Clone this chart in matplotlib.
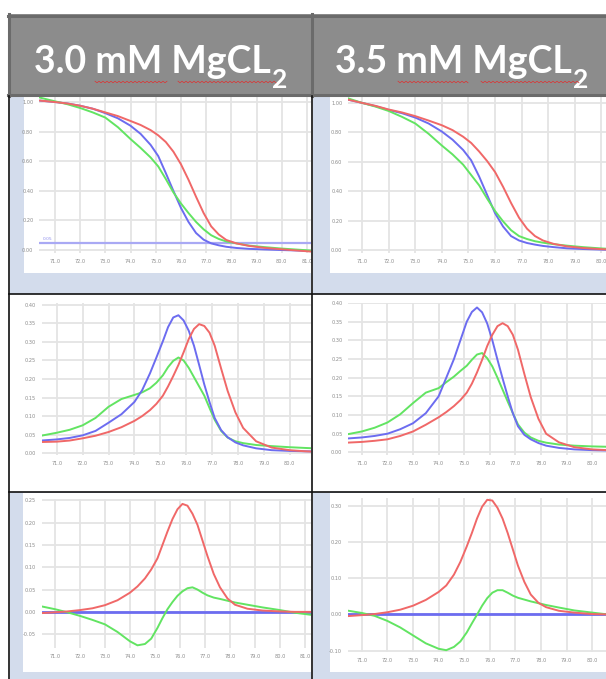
import numpy as np
import matplotlib.pyplot as plt
from matplotlib.patches import Rectangle
from matplotlib.lines import Line2D

W, H = 606, 679

headers = ["3.0 mM MgCL", "3.5 mM MgCL"]
header_sub = "2"

# temperature grid (deg C) at which the melt curves were read
temps = [70.4, 71.0, 71.5, 72.0, 72.5, 73.0, 73.5, 74.0, 74.4, 74.8, 75.1, 75.4, 75.7,
         76.0, 76.3, 76.6, 76.9, 77.2, 77.5, 77.8, 78.2, 78.7, 79.3, 80.0, 80.6, 81.3]
# finer grid for the peaked curves (derivative and difference rows)
temps_pk = [70.4, 71.0, 71.5, 72.0, 72.5, 73.0, 73.5, 74.0, 74.3, 74.6, 74.85, 75.1, 75.3, 75.5,
            75.7, 75.9, 76.1, 76.3, 76.5, 76.7, 76.9, 77.1, 77.35, 77.6, 77.9, 78.2, 78.7,
            79.3, 80.0, 80.6, 81.3]

# normalized melt curves, 3.0 mM
norm30_red = [1.01, 1.0, 0.99, 0.975, 0.955, 0.93, 0.905, 0.872, 0.845, 0.81, 0.775, 0.73, 0.665,
              0.58, 0.475, 0.36, 0.25, 0.16, 0.105, 0.068, 0.045, 0.028, 0.015, 0.005, -0.003, -0.012]
norm30_blue = [1.01, 1.0, 0.99, 0.975, 0.955, 0.925, 0.89, 0.84, 0.785, 0.71, 0.635, 0.52, 0.4,
               0.285, 0.19, 0.115, 0.07, 0.045, 0.032, 0.022, 0.014, 0.008, 0.004, 0.0, -0.003, -0.008]
norm30_green = [1.03, 1.005, 0.985, 0.96, 0.93, 0.895, 0.83, 0.75, 0.69, 0.625, 0.565, 0.48, 0.39,
                0.315, 0.25, 0.19, 0.14, 0.1, 0.075, 0.058, 0.045, 0.03, 0.02, 0.01, 0.003, -0.005]

# normalized melt curves, 3.5 mM
norm35_red = [1.025, 1.0, 0.98, 0.955, 0.935, 0.91, 0.88, 0.848, 0.815, 0.77, 0.728, 0.67, 0.605,
              0.53, 0.43, 0.32, 0.22, 0.145, 0.095, 0.065, 0.042, 0.025, 0.014, 0.006, 0.002, 0.0]
norm35_blue = [1.025, 1.0, 0.978, 0.952, 0.93, 0.9, 0.86, 0.805, 0.75, 0.68, 0.61, 0.5, 0.375,
               0.25, 0.16, 0.095, 0.065, 0.048, 0.037, 0.028, 0.02, 0.012, 0.007, 0.003, 0.0, -0.002]
norm35_green = [1.035, 1.0, 0.975, 0.945, 0.905, 0.86, 0.79, 0.71, 0.65, 0.58, 0.51, 0.44, 0.35,
                0.265, 0.195, 0.135, 0.095, 0.075, 0.06, 0.05, 0.04, 0.03, 0.02, 0.011, 0.005, 0.0]

# derivative curves, 3.0 mM
deriv30_red = [0.03, 0.031, 0.034, 0.04, 0.047, 0.057, 0.07, 0.087, 0.1, 0.116, 0.133, 0.155, 0.18, 0.208,
               0.238, 0.272, 0.308, 0.335, 0.348, 0.343, 0.325, 0.29, 0.228, 0.168, 0.11, 0.068, 0.032,
               0.015, 0.008, 0.005, 0.003]
deriv30_blue = [0.034, 0.037, 0.041, 0.048, 0.06, 0.082, 0.105, 0.138, 0.17, 0.215, 0.258, 0.302, 0.34, 0.366,
                0.372, 0.358, 0.33, 0.29, 0.238, 0.185, 0.138, 0.095, 0.062, 0.043, 0.029, 0.021, 0.013,
                0.008, 0.006, 0.005, 0.004]
deriv30_green = [0.047, 0.055, 0.063, 0.075, 0.095, 0.125, 0.146, 0.157, 0.164, 0.175, 0.19, 0.21, 0.232, 0.249,
                 0.258, 0.25, 0.23, 0.205, 0.18, 0.155, 0.122, 0.09, 0.06, 0.042, 0.032, 0.027, 0.022,
                 0.019, 0.016, 0.014, 0.012]

# derivative curves, 3.5 mM
deriv35_red = [0.026, 0.028, 0.031, 0.035, 0.044, 0.056, 0.074, 0.094, 0.108, 0.124, 0.14, 0.16, 0.184, 0.214,
               0.248, 0.285, 0.315, 0.338, 0.346, 0.338, 0.315, 0.275, 0.21, 0.148, 0.09, 0.05, 0.027,
               0.014, 0.008, 0.006, 0.005]
deriv35_blue = [0.037, 0.04, 0.044, 0.05, 0.062, 0.078, 0.105, 0.15, 0.2, 0.25, 0.3, 0.35, 0.376, 0.388,
                0.375, 0.345, 0.3, 0.248, 0.198, 0.15, 0.105, 0.07, 0.047, 0.035, 0.025, 0.018, 0.012,
                0.008, 0.006, 0.005, 0.005]
deriv35_green = [0.048, 0.056, 0.066, 0.08, 0.102, 0.132, 0.16, 0.172, 0.188, 0.203, 0.218, 0.232, 0.248, 0.262,
                 0.266, 0.252, 0.23, 0.2, 0.168, 0.136, 0.105, 0.075, 0.053, 0.04, 0.031, 0.026, 0.021,
                 0.018, 0.016, 0.015, 0.014]

# difference curves (blue is the reference, flat at zero)
diff30_red = [-0.003, -0.001, 0.001, 0.004, 0.008, 0.015, 0.026, 0.043, 0.057, 0.075, 0.095, 0.12, 0.15, 0.18,
              0.208, 0.23, 0.242, 0.238, 0.22, 0.195, 0.16, 0.125, 0.085, 0.055, 0.03, 0.016, 0.007,
              0.003, 0.001, 0.0, 0.0]
diff30_green = [0.013, 0.006, -0.001, -0.009, -0.018, -0.028, -0.045, -0.066, -0.075, -0.072, -0.06, -0.036,
                -0.014, 0.006, 0.022, 0.036, 0.046, 0.053, 0.055, 0.05, 0.043, 0.037, 0.032, 0.029, 0.025,
                0.021, 0.016, 0.01, 0.004, -0.002, -0.007]
diff35_red = [-0.005, -0.002, 0.001, 0.006, 0.013, 0.024, 0.04, 0.062, 0.08, 0.11, 0.145, 0.188, 0.225, 0.265,
              0.298, 0.317, 0.315, 0.295, 0.265, 0.225, 0.18, 0.135, 0.09, 0.055, 0.032, 0.02, 0.01,
              0.005, 0.001, 0.0, 0.0]
diff35_green = [0.011, 0.004, -0.004, -0.018, -0.036, -0.058, -0.08, -0.095, -0.099, -0.09, -0.075, -0.05,
                -0.025, -0.001, 0.024, 0.045, 0.06, 0.067, 0.067, 0.06, 0.052, 0.046, 0.041, 0.036, 0.031,
                0.026, 0.019, 0.011, 0.005, 0.0, -0.003]
diff_blue_t = [70.4, 81.3]
diff_blue = [0.0, 0.0]

x_ticks = list(range(71, 82))
x_labels = [f"{t}.0" for t in x_ticks]

RED, BLUE, GREEN = "#f06868", "#6c6cf0", "#62e462"
CELL_BLUE = "#d3dcec"
LW = 1.4

fig = plt.figure(figsize=(W / 100, H / 100), dpi=100)


def rect(x0, y0, x1, y1, color, z=-5):
    fig.add_artist(Rectangle((x0 / W, 1 - y1 / H), (x1 - x0) / W, (y1 - y0) / H,
                             transform=fig.transFigure, facecolor=color,
                             edgecolor="none", zorder=z))


def line(xs, ys, color, lw, z=10):
    fig.add_artist(Line2D([x / W for x in xs], [1 - y / H for y in ys],
                          transform=fig.transFigure, color=color, lw=lw, zorder=z))


def panel(x0, y0, x1, y1, xlim, ylim, yticks, ylabels):
    ax = fig.add_axes([x0 / W, 1 - y1 / H, (x1 - x0) / W, (y1 - y0) / H])
    ax.set_facecolor("none")
    for s in ax.spines.values():
        s.set_visible(False)
    ax.set_xticks(x_ticks)
    ax.set_xticklabels(x_labels)
    ax.set_yticks(yticks)
    ax.set_yticklabels(ylabels)
    # limits after the ticks, set_ticks would widen them
    ax.set_xlim(*xlim)
    ax.set_ylim(*ylim)
    ax.tick_params(length=0, labelsize=3.6, labelcolor="#8a8a8a", pad=4)
    ax.grid(True, color="#e4e4e4", lw=1.3)
    ax.set_axisbelow(True)
    return ax


def curve(ax, t, v, color, lw=LW):
    ax.plot(t, v, color=color, lw=lw, solid_joinstyle="round", solid_capstyle="round")


# backgrounds of the cells
rect(8, 14, 606, 96, "#8c8c8c")
rect(10, 96, 311, 294, CELL_BLUE)
rect(24, 96, 311, 273, "white", z=-4)
rect(313, 96, 606, 294, CELL_BLUE)
rect(330, 96, 606, 273, "white", z=-4)
rect(10, 492, 311, 679, CELL_BLUE)
rect(23, 493, 311, 672, "white", z=-4)
rect(313, 492, 606, 679, CELL_BLUE)
rect(330, 493, 606, 672, "white", z=-4)

# header borders
line([8, 606], [15.5, 15.5], "#6b6b6b", 2.2)
line([9, 9], [14, 96], "#6b6b6b", 2.2)
line([312, 312], [14, 96], "#6b6b6b", 2.2)
line([8, 606], [95, 95], "#6b6b6b", 2.2)
# table lines
line([9, 9], [96, 679], "#111111", 1.2)
line([312, 312], [96, 679], "#111111", 1.2)
line([9, 606], [294, 294], "#111111", 1.2)
line([9, 606], [492, 492], "#111111", 1.2)

# header text, subscript drawn as its own text so it can sit low like in Word
renderer = fig.canvas.get_renderer()
for cx, label in zip([161, 462], headers):
    t = fig.text(0, 1 - 73 / H, label, ha="left", va="baseline", color="white",
                 fontsize=27, fontweight="bold", family="Lato", zorder=12)
    s = fig.text(0, 1 - 88 / H, header_sub, ha="left", va="baseline", color="white",
                 fontsize=19, fontweight="bold", family="Lato", zorder=12)
    w_main = t.get_window_extent(renderer).width
    w_sub = s.get_window_extent(renderer).width
    left = cx - (w_main + 1 + w_sub) / 2
    t.set_x(left / W)
    s.set_x((left + w_main + 1) / W)

# spell-check squiggles under the header words
for sx0, sx1 in [(95, 168), (178, 276), (398, 469), (481, 579)]:
    xs = np.arange(sx0, sx1 + 1, 2.0)
    ys = 82 + np.where(np.arange(len(xs)) % 2 == 0, -0.8, 0.8)
    line(xs, ys, "#e03030", 0.5, z=13)

# row 1: normalized melt curves
n_ticks = [0, 0.2, 0.4, 0.6, 0.8, 1.0]
n_labels = [f"{v:.2f}" for v in n_ticks]
ax = panel(39, 97, 311, 253, (70.37, 81.16), (-0.02, 1.034), n_ticks, n_labels)
ax.axhline(0.047, color="#a9a9f4", lw=1.6)
ax.text(70.5, 0.065, "0.05", fontsize=3.2, color="#9090ee")
curve(ax, temps, norm30_blue, BLUE)
curve(ax, temps, norm30_green, GREEN)
curve(ax, temps, norm30_red, RED)

ax = panel(348, 97, 606, 253, (70.47, 80.17), (-0.02, 1.04), n_ticks, n_labels)
curve(ax, temps, norm35_blue, BLUE)
curve(ax, temps, norm35_green, GREEN)
curve(ax, temps, norm35_red, RED)

# row 2: derivative curves
d_ticks = [0, 0.05, 0.1, 0.15, 0.2, 0.25, 0.3, 0.35, 0.4]
d_labels = [f"{v:.2f}" for v in d_ticks]
ax = panel(41.7, 303, 311, 455, (70.42, 80.82), (-0.005, 0.405), d_ticks, d_labels)
curve(ax, temps_pk, deriv30_green, GREEN)
curve(ax, temps_pk, deriv30_blue, BLUE)
curve(ax, temps_pk, deriv30_red, RED)

ax = panel(348, 303, 606, 455, (70.46, 80.54), (-0.007, 0.40), d_ticks, d_labels)
curve(ax, temps_pk, deriv35_green, GREEN)
curve(ax, temps_pk, deriv35_blue, BLUE)
curve(ax, temps_pk, deriv35_red, RED)

# row 3: difference curves
l_ticks = [-0.05, 0, 0.05, 0.1, 0.15, 0.2, 0.25]
ax = panel(41.7, 499, 311, 648, (70.47, 81.24), (-0.081, 0.253),
           l_ticks, [f"{v:.2f}" for v in l_ticks])
curve(ax, diff_blue_t, diff_blue, BLUE, lw=2.0)
curve(ax, temps_pk, diff30_green, GREEN)
curve(ax, temps_pk, diff30_red, RED)

r_ticks = [-0.1, 0, 0.1, 0.2, 0.3]
ax = panel(347.7, 498, 606, 652, (70.45, 80.54), (-0.104, 0.322),
           r_ticks, [f"{v:.2f}" for v in r_ticks])
curve(ax, diff_blue_t, diff_blue, BLUE, lw=2.0)
curve(ax, temps_pk, diff35_green, GREEN)
curve(ax, temps_pk, diff35_red, RED)

fig.savefig("out.png", dpi=100)
